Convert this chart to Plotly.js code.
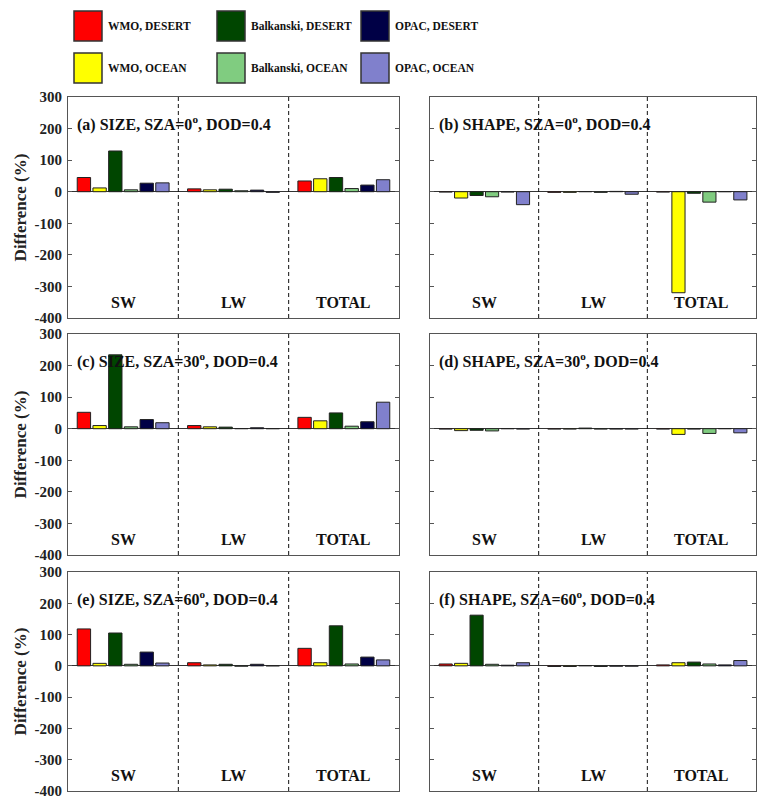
<!DOCTYPE html>
<html>
<head>
<meta charset="utf-8">
<script src="https://cdn.plot.ly/plotly-3.0.1.min.js"></script>
<style>html,body{margin:0;padding:0;background:#fff;}#chart{width:757px;height:797px;}</style>
</head>
<body>
<div id="chart"></div>
<script>
// ---- data ----
const groups = ['SW', 'LW', 'TOTAL'];
const seriesNames = ['WMO, DESERT', 'WMO, OCEAN', 'Balkanski, DESERT', 'Balkanski, OCEAN', 'OPAC, DESERT', 'OPAC, OCEAN'];
const panelTitles = [
  '(a) SIZE, SZA=0<sup>o</sup>, DOD=0.4',
  '(b) SHAPE, SZA=0<sup>o</sup>, DOD=0.4',
  '(c) SIZE, SZA=30<sup>o</sup>, DOD=0.4',
  '(d) SHAPE, SZA=30<sup>o</sup>, DOD=0.4',
  '(e) SIZE, SZA=60<sup>o</sup>, DOD=0.4',
  '(f) SHAPE, SZA=60<sup>o</sup>, DOD=0.4'
];
const yTicks = [-400, -300, -200, -100, 0, 100, 200, 300];
const yTickText = ['-400', '-300', '-200', '-100', '0', '100', '200', '300'];
// rows: series (same order as seriesNames), columns: SW, LW, TOTAL
const panelA = [[45, 9, 34], [12, 6, 41], [129, 8, 45], [6, 3, 10], [27, 5, 21], [28, -2, 38]];
const panelB = [[-1, -2, -1], [-20, -2, -320], [-12, 0.5, -5], [-16, -2, -33], [-1, 1, 0.3], [-41, -8, -26]];
const panelC = [[52, 10, 36], [10, 6, 25], [234, 5, 50], [6, 0.5, 8], [29, 3, 22], [19, 0.3, 84]];
const panelD = [[-1, -1, -1], [-6, -1, -18], [-5, 2, -1], [-7, -1, -15], [0.3, -1, 0.3], [-1, -1, -13]];
const panelE = [[118, 10, 56], [8, 3, 10], [105, 5, 128], [5, -1, 6], [44, 5, 28], [9, 0.3, 19]];
const panelF = [[6, -2, 3], [8, -2, 10], [162, 1, 12], [5, -2, 6], [2, -1, 3], [10, -1, 17]];
const panels = [panelA, panelB, panelC, panelD, panelE, panelF];

// ---- styles / layout ----
const colors = ['#FF0000', '#FFFF00', '#004600', '#80CC80', '#000046', '#8080CC'];
const W = 757, H = 797;
const colPx = [[68, 399], [430, 756]];
const rowPx = [[97, 318], [334, 555], [572, 791]];
const serif = '"Liberation Serif", "Times New Roman", Times, serif';

const traces = [];
const layout = {
  width: W, height: H,
  margin: {l: 0, r: 0, t: 0, b: 0},
  paper_bgcolor: '#fff', plot_bgcolor: '#fff',
  font: {family: serif, color: '#111'},
  barmode: 'group', bargap: 0.146, bargroupgap: 0.15,
  showlegend: false,
  shapes: [], annotations: []
};

panels.forEach((vals, p) => {
  const r = Math.floor(p / 2), c = p % 2;
  const n = p === 0 ? '' : String(p + 1);
  const xa = 'x' + n, ya = 'y' + n;
  vals.forEach((v, s) => {
    traces.push({
      type: 'bar', x: groups, y: v, name: seriesNames[s],
      xaxis: xa, yaxis: ya,
      marker: {color: colors[s], line: {color: '#222', width: 1}},
      hoverinfo: 'skip'
    });
  });
  layout['xaxis' + n] = {
    domain: [colPx[c][0] / W, colPx[c][1] / W],
    anchor: ya, type: 'category', range: [-0.5, groups.length - 0.5],
    showticklabels: false, ticks: '', showgrid: false, zeroline: false,
    showline: true, mirror: true, linecolor: '#555', linewidth: 1
  };
  const yax = {
    domain: [1 - rowPx[r][1] / H, 1 - rowPx[r][0] / H],
    anchor: xa, range: [-400, 300], tickvals: yTicks, ticktext: yTickText,
    ticks: 'inside', ticklen: 4, tickcolor: '#555', mirror: 'ticks',
    showline: true, linecolor: '#555', linewidth: 1,
    showgrid: false, zeroline: true, zerolinecolor: '#333', zerolinewidth: 1,
    showticklabels: c === 0, ticklabelstandoff: 2, ticklabeloverflow: 'allow',
    tickfont: {family: serif, size: 15, color: '#222', weight: 700}
  };
  if (c === 0) {
    yax.title = {text: 'Difference (%)', font: {family: serif, size: 17, color: '#222', weight: 700}, standoff: 3};
  }
  layout['yaxis' + n] = yax;
  // dashed dividers between groups
  for (let k = 1; k < groups.length; k++) {
    layout.shapes.push({
      type: 'line', xref: xa, yref: ya + ' domain',
      x0: k - 0.5, x1: k - 0.5, y0: 0, y1: 1,
      line: {color: '#111', width: 1, dash: '4px,3px'}
    });
  }
  // group labels
  groups.forEach((g) => {
    layout.annotations.push({
      xref: xa, yref: ya, x: g, y: -350, text: g, showarrow: false,
      font: {family: serif, size: 16, color: '#111', weight: 700}
    });
  });
  // panel title
  layout.annotations.push({
    xref: xa + ' domain', yref: ya, x: 0.02, y: 215, xanchor: 'left', yanchor: 'middle',
    text: panelTitles[p], showarrow: false,
    font: {family: serif, size: 16, color: '#111', weight: 700}
  });
});

// legend drawn as boxes + labels
const legX = [74, 217, 361], legY = [11, 53], boxW = 28, boxH = 30;
seriesNames.forEach((name, s) => {
  const cx = legX[Math.floor(s / 2)], cy = legY[s % 2];
  layout.shapes.push({
    type: 'rect', xref: 'paper', yref: 'paper',
    x0: cx / W, x1: (cx + boxW) / W, y0: 1 - (cy + boxH) / H, y1: 1 - cy / H,
    fillcolor: colors[s], line: {color: '#333', width: 1.5}
  });
  layout.annotations.push({
    xref: 'paper', yref: 'paper', x: (cx + boxW + 4) / W, y: 1 - (cy + boxH / 2) / H,
    xanchor: 'left', yanchor: 'middle', text: name, showarrow: false,
    font: {family: serif, size: 11.5, color: '#111', weight: 700}
  });
});

Plotly.newPlot('chart', traces, layout, {staticPlot: true, displayModeBar: false});
</script>
</body>
</html>
